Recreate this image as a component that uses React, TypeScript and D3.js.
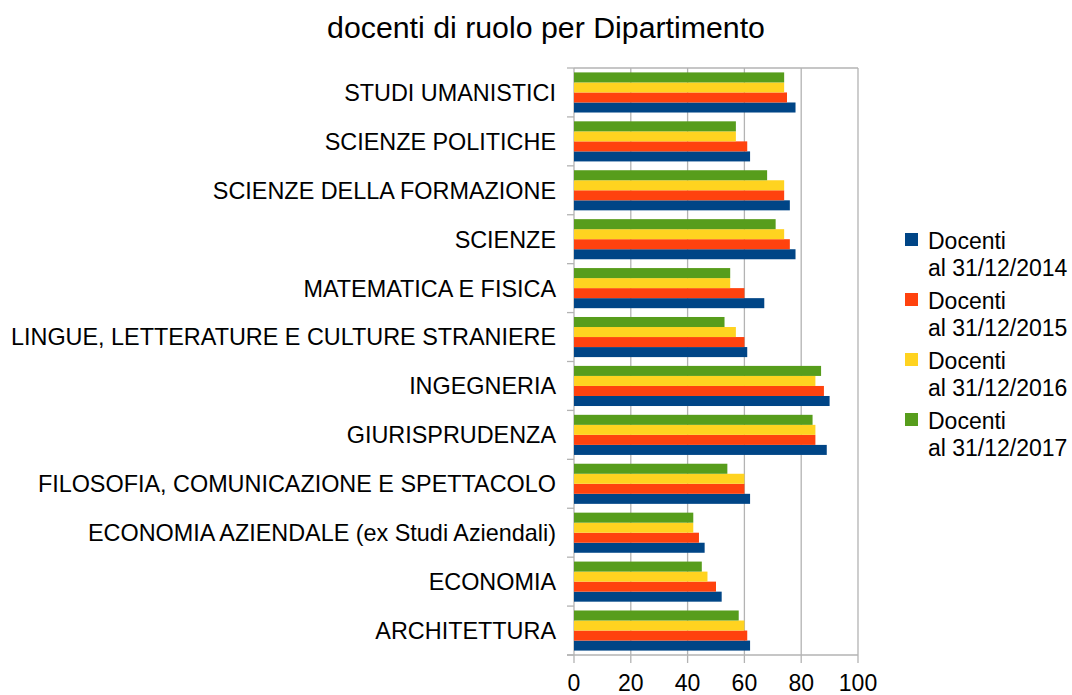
import * as d3 from 'd3';

const categories = [
  'STUDI UMANISTICI',
  'SCIENZE POLITICHE',
  'SCIENZE DELLA FORMAZIONE',
  'SCIENZE',
  'MATEMATICA E FISICA',
  'LINGUE, LETTERATURE E CULTURE STRANIERE',
  'INGEGNERIA',
  'GIURISPRUDENZA',
  'FILOSOFIA, COMUNICAZIONE E SPETTACOLO',
  'ECONOMIA AZIENDALE (ex Studi Aziendali)',
  'ECONOMIA',
  'ARCHITETTURA',
];

const docenti2014 = [78, 62, 76, 78, 67, 61, 90, 89, 62, 46, 52, 62];
const docenti2015 = [75, 61, 74, 76, 60, 60, 88, 85, 60, 44, 50, 61];
const docenti2016 = [74, 57, 74, 74, 55, 57, 85, 85, 60, 42, 47, 60];
const docenti2017 = [74, 57, 68, 71, 55, 53, 87, 84, 54, 42, 45, 58];

const seriesNames = ['al 31/12/2014', 'al 31/12/2015', 'al 31/12/2016', 'al 31/12/2017'];
const seriesColors = ['#004586', '#ff420e', '#ffd320', '#579d1c'];
const xTicks = [0, 20, 40, 60, 80, 100];

const W = 1072;
const H = 695;
const margin = { top: 68, right: 214, bottom: 40, left: 574 };
const FONT = '"Liberation Sans", Arial, sans-serif';

const App = () => {
  const series = [docenti2014, docenti2015, docenti2016, docenti2017];
  const innerW = W - margin.left - margin.right;
  const innerH = H - margin.top - margin.bottom;

  const x = d3.scaleLinear().domain([0, 100]).range([0, innerW]);
  const y = d3.scaleBand().domain(categories).range([0, innerH]).paddingInner(0.18).paddingOuter(0.09);
  // green on top, blue at the bottom of each group
  const ySub = d3.scaleBand().domain(['3', '2', '1', '0']).range([0, y.bandwidth()]);
  const step = innerH / categories.length;

  return (
    <svg width={W} height={H} style={{ position: 'absolute', left: 0, top: 0 }} fontFamily={FONT}>
      <rect width={W} height={H} fill="#fff" />
      <text x={546} y={38} textAnchor="middle" fontSize={30.3} fill="#000">
        docenti di ruolo per Dipartimento
      </text>

      <g transform={`translate(${margin.left},${margin.top})`}>
        {/* grid */}
        {xTicks.map(t => (
          <line key={'g' + t} x1={x(t)} x2={x(t)} y1={0} y2={innerH + 8} stroke="#b3b3b3" strokeWidth={1.3} />
        ))}
        <line x1={0} x2={innerW} y1={0} y2={0} stroke="#b3b3b3" strokeWidth={1.3} />
        <line x1={-7} x2={innerW} y1={innerH} y2={innerH} stroke="#b3b3b3" strokeWidth={1.3} />
        {d3.range(categories.length + 1).map(i => (
          <line key={'c' + i} x1={-7} x2={0} y1={i * step} y2={i * step} stroke="#b3b3b3" strokeWidth={1.3} />
        ))}

        {/* bars */}
        {series.map((vals, s) =>
          vals.map((v, i) => (
            <rect
              key={s + '-' + i}
              x={0}
              y={(y(categories[i]) ?? 0) + (ySub(String(s)) ?? 0)}
              width={x(v)}
              height={ySub.bandwidth()}
              fill={seriesColors[s]}
            />
          ))
        )}

        {/* category labels */}
        {categories.map(c => (
          <text key={c} x={-18} y={(y(c) ?? 0) + y.bandwidth() / 2} dy="0.36em" textAnchor="end" fontSize={23.4} fill="#000">
            {c}
          </text>
        ))}

        {/* x tick labels */}
        {xTicks.map(t => (
          <text key={'t' + t} x={x(t)} y={innerH + 36} textAnchor="middle" fontSize={23} fill="#000">
            {t}
          </text>
        ))}
      </g>

      {/* legend */}
      <g transform="translate(905,233)">
        {seriesNames.map((n, s) => (
          <g key={n} transform={`translate(0,${s * 60})`}>
            <rect x={0} y={0} width={13} height={13} fill={seriesColors[s]} />
            <text x={23} y={16} fontSize={23} fill="#000">Docenti</text>
            <text x={23} y={43} fontSize={23} fill="#000">{n}</text>
          </g>
        ))}
      </g>
    </svg>
  );
};

export default App;
